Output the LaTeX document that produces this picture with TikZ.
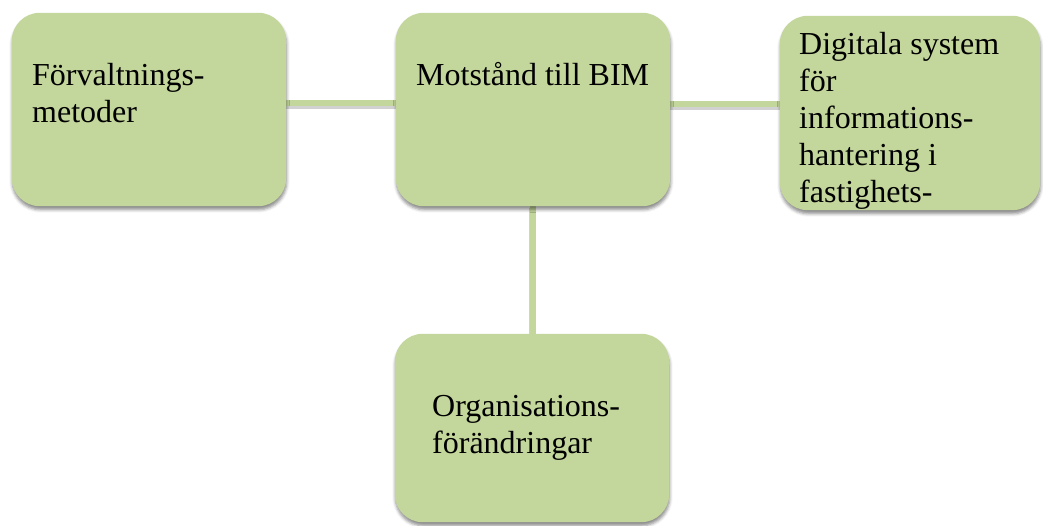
\documentclass[tikz,border=0pt]{standalone}
\usepackage{fontspec}
\setmainfont{Liberation Serif}
\usetikzlibrary{shadows.blur,calc}
\definecolor{boxgreen}{HTML}{C3D69B}
\tikzset{
  box/.style={fill=boxgreen, draw=none, rounded corners=28pt, inner sep=0pt,
    blur shadow={shadow xshift=0.5pt, shadow yshift=-3.5pt, shadow blur radius=3pt, shadow opacity=45}},
  lbl/.style={anchor=base west, inner sep=0pt, align=left, font=\fontsize{32}{37}\selectfont},
  conn/.style={draw=boxgreen, line width=6pt},
  connshadow/.style={draw=black, opacity=0.18, line width=6pt},
}
\begin{document}
\begin{tikzpicture}[x=1pt,y=-1pt]
\useasboundingbox (0,0) rectangle (1043,526);
% boxes (positions)
\node[minimum width=274pt, minimum height=193pt, inner sep=0pt] (a) at (149,109.5) {};
\node[minimum width=274pt, minimum height=193pt, inner sep=0pt] (b) at (533,109.5) {};
\node[minimum width=260pt, minimum height=194pt, inner sep=0pt] (c) at (910,113) {};
\node[minimum width=274pt, minimum height=188pt, inner sep=0pt] (d) at (532,428) {};
% connectors
\draw[connshadow] ([yshift=3pt]a.east) -- ([yshift=3pt]a.east -| b.west);
\draw[connshadow] ([yshift=2pt]b.east) -- ([yshift=2pt]b.east -| c.west);
\draw[connshadow] ([xshift=-1pt,yshift=-2pt]b.south) -- ([xshift=-1pt,yshift=-2pt]b.south |- d.north);
\draw[conn] ([yshift=6pt]a.east) -- ([yshift=6pt]a.east -| b.west);
\draw[conn] ([yshift=5pt]b.east) -- ([yshift=5pt]b.east -| c.west);
\draw[conn] (b.south) -- (b.south |- d.north);
% box shapes
\fill[box] (a.north west) rectangle (a.south east);
\fill[box] (b.north west) rectangle (b.south east);
\fill[box] (c.north west) rectangle (c.south east);
\fill[box] (d.north west) rectangle (d.south east);
% texts
\node[lbl] (ta) at (32,123) {Förvaltnings-\\metoder};
\node[lbl] (tb) at (416,86) {Motstånd till BIM};
\node[lbl] (tc) at (799,203) {Digitala system\\för\\informations-\\hantering i\\fastighets-};
\node[lbl] (td) at (432,453) {Organisations-\\förändringar};
\end{tikzpicture}
\end{document}
